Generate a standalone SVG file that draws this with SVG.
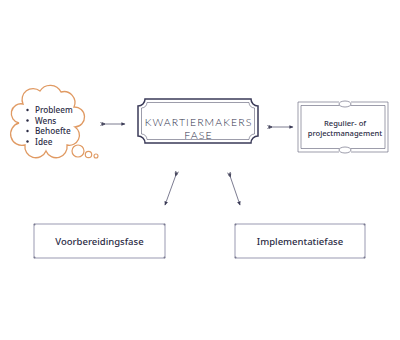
<svg xmlns="http://www.w3.org/2000/svg" width="400" height="340" viewBox="0 0 400 340">
<defs>
<style>
.t{font-family:"Noto Sans","Open Sans",sans-serif;font-weight:500;fill:#2b2b45;}
.thin{font-family:"Lato","Open Sans",sans-serif;font-weight:300;fill:#2e2e4a;letter-spacing:1.1px;}
.frame{fill:none;stroke:#3a3a58;stroke-width:1.5;}
.frame2{fill:none;stroke:#5a5a72;stroke-width:0.6;}
.soft{fill:#fff;stroke:#bcbccb;stroke-width:1.5;}
.cn{fill:#7a7a90;}
.arr{stroke:#5a5a75;stroke-width:0.8;fill:none;marker-end:url(#head);marker-start:url(#tail);}
</style>
<marker id="head" viewBox="0 0 10 10" refX="8" refY="5" markerWidth="4.5" markerHeight="4.5" orient="auto" markerUnits="userSpaceOnUse">
<path d="M0,1 L9,5 L0,9 Z" fill="#3a3a55"/>
</marker>
<marker id="tail" viewBox="0 0 10 10" refX="1" refY="5" markerWidth="6" markerHeight="5" orient="auto" markerUnits="userSpaceOnUse">
<path d="M0,2 L6,5 M0,8 L6,5 M3,2 L9,5 M3,8 L9,5" stroke="#2b2b45" stroke-width="1.5" fill="none"/>
</marker>
</defs>
<rect width="400" height="340" fill="#fff"/>

<g id="connectors">
<line class="arr" x1="101" y1="124" x2="125" y2="124"/>
<line class="arr" x1="268" y1="127" x2="293" y2="127"/>
<line class="arr" x1="177" y1="172" x2="165" y2="205"/>
<line class="arr" x1="229" y1="173" x2="240" y2="205"/>
</g>

<g id="cloud">
<path d="M19,123 A9,9 0 0 1 23,104 A11,11 0 0 1 40,91 A12,12 0 0 1 61,92 A11,11 0 0 1 74,107 A10,10 0 0 1 75,127 A10,10 0 0 1 67,145 A11,11 0 0 1 46,151 A11,11 0 0 1 25,145 A10,10 0 0 1 19,123 Z" fill="#fff" stroke="#e09a63" stroke-width="1.3"/>
<circle cx="78" cy="151" r="6" fill="#fff" stroke="#e09a63" stroke-width="1.2"/>
<circle cx="88.5" cy="154.5" r="3.2" fill="#fff" stroke="#e09a63" stroke-width="1.2"/>
<circle cx="96" cy="156" r="2" fill="#fff" stroke="#e09a63" stroke-width="1.1"/>
<circle cx="27.5" cy="110" r="1.2" fill="#2b2b45"/>
<circle cx="27.5" cy="120.5" r="1.2" fill="#2b2b45"/>
<circle cx="27.5" cy="131" r="1.2" fill="#2b2b45"/>
<circle cx="27.5" cy="141.5" r="1.2" fill="#2b2b45"/>
<text class="t" x="35" y="113" font-size="8.2">Probleem</text>
<text class="t" x="35" y="123.5" font-size="8.2">Wens</text>
<text class="t" x="35" y="134" font-size="8.2">Behoefte</text>
<text class="t" x="35" y="144.5" font-size="8.2">Idee</text>
</g>

<g id="kwartiermakers">
<path class="frame" d="M145,99 H251 A7,7 0 0 0 258,106 V136 A7,7 0 0 0 251,143 H145 A7,7 0 0 0 138,136 V106 A7,7 0 0 0 145,99 Z"/>
<path class="frame2" d="M147,102.5 H249 A6,6 0 0 0 254.5,108 V134 A6,6 0 0 0 249,139.5 H147 A6,6 0 0 0 141.5,134 V108 A6,6 0 0 0 147,102.5 Z"/>
<text class="thin" x="198.5" y="126" font-size="10.5" text-anchor="middle">KWARTIERMAKERS</text>
<text class="thin" x="198.5" y="139" font-size="10.5" text-anchor="middle">FASE</text>
</g>

<g id="regulier">
<path class="frame2" d="M339,102 H298 V152 H339 M351,102 H388 V152 H351"/>
<path class="frame2" d="M339.5,105.5 H301 V148.5 H339.5 M350.5,105.5 H385 V148.5 H350.5"/>
<ellipse class="frame2" cx="345" cy="104" rx="6" ry="3"/>
<ellipse class="frame2" cx="345" cy="150" rx="6" ry="3"/>
<text class="t" x="345" y="126" font-size="7.6" text-anchor="middle">Regulier- of</text>
<text class="t" x="345" y="136" font-size="7.6" text-anchor="middle">projectmanagement</text>
</g>

<g id="voorbereidingsfase">
<rect class="soft" x="34" y="224" width="131" height="34" rx="1.5"/>
<circle class="cn" cx="34.5" cy="224.5" r="1"/>
<circle class="cn" cx="164.5" cy="224.5" r="1"/>
<circle class="cn" cx="34.5" cy="257.5" r="1"/>
<circle class="cn" cx="164.5" cy="257.5" r="1"/>
<text class="t" x="99.5" y="244.5" font-size="9.5" text-anchor="middle" font-weight="600">Voorbereidingsfase</text>
</g>

<g id="implementatiefase">
<rect class="soft" x="235" y="224" width="130" height="34" rx="1.5"/>
<circle class="cn" cx="235.5" cy="224.5" r="1"/>
<circle class="cn" cx="364.5" cy="224.5" r="1"/>
<circle class="cn" cx="235.5" cy="257.5" r="1"/>
<circle class="cn" cx="364.5" cy="257.5" r="1"/>
<text class="t" x="300" y="244.5" font-size="9.5" text-anchor="middle" font-weight="600">Implementatiefase</text>
</g>
</svg>
